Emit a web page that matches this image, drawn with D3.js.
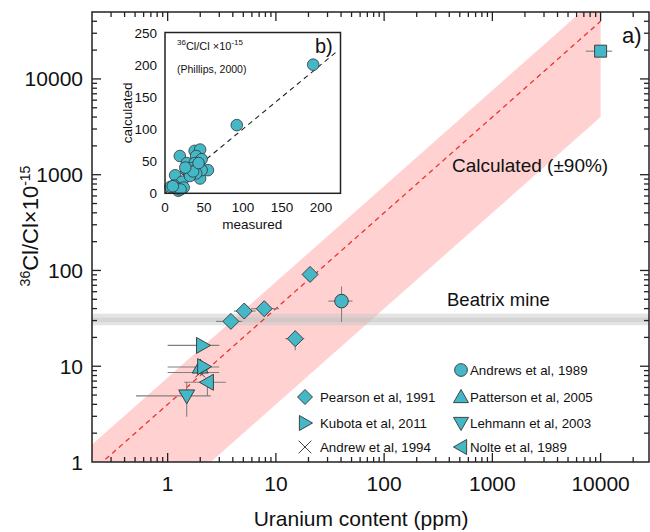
<!DOCTYPE html>
<html><head><meta charset="utf-8">
<script src="https://cdn.jsdelivr.net/npm/d3@7"></script>
<style>
body{margin:0;background:#fff;}
svg{font-family:"Liberation Sans",Arial,sans-serif;}
</style></head><body>
<svg id="c" width="650" height="532"></svg>
<script>
// ---------- data ----------
const xTicks = [1, 10, 100, 1000, 10000];
const yTicks = [1, 10, 100, 1000, 10000];
const xTickLabels = ["1", "10", "100", "1000", "10000"];
const yTickLabels = ["1", "10", "100", "1000", "10000"];

// model line (1:1 calculated) and ±90% band
const calcX = [0.2, 10000];
const calcY = [0.8, 40000];
const bandX = [0.1, 10000];
const bandUpper = [0.76, 76000];
const bandLower = [0.04, 4000];
// Beatrix mine range
const beatrixOuter = [26.8, 35.4];
const beatrixInner = [28.9, 32.1];

// series: u = uranium (ppm), c = 36Cl/Cl, x/y error ranges
const pearson = [
  {u: 20.7, c: 91},
  {u: 5.1, c: 37.7, xl: 4.1, xh: 6.5},
  {u: 7.8, c: 39.9, xl: 5.9, xh: 10.7},
  {u: 3.84, c: 29.4, xl: 2.8, xh: 4.9},
  {u: 15.1, c: 19.4, xl: 12.2, xh: 18.3, yl: 14.7, yh: 23.6}
];
const andrews = [{u: 40.4, c: 47.9, xl: 30.5, xh: 51, yl: 29, yh: 68}];
const kubota = [
  {u: 2.1, c: 16.5, xl: 1.0, xh: 3.0},
  {u: 2.15, c: 9.9}
];
const patterson = [{u: 2.0, c: 9.8, xl: 1.0, xh: 3.0}];
const andrew = [{u: 2.0, c: 8.6, xl: 1.0, xh: 3.0}];
const lehmann = [{u: 1.5, c: 4.9, xl: 0.51, xh: 2.5, yl: 2.96, yh: 6.8}];
const nolte = [{u: 2.33, c: 6.8, xl: 1.42, xh: 3.45, yl: 4.9, yh: 6.8}];
const phillipsSquare = [{u: 10000, c: 19500, xl: 7300, xh: 12800}];

// inset: measured vs calculated (Phillips, 2000)
const insetMeasured   = [190, 92, 7, 13, 19, 19, 17, 22, 24, 12, 15, 20, 28, 27, 31, 38, 45, 40, 47, 38, 34, 40, 44, 45, 55, 47, 40, 32, 36, 43, 10, 26];
const insetCalculated = [200, 106, 10, 28, 58, 13, 4, 18, 9, 12, 8, 6, 47, 36, 31, 66, 68, 58, 53, 47, 39, 36, 42, 23, 36, 36, 31, 27, 34, 47, 11, 40];
const insetTicks = [0, 50, 100, 150, 200];
const insetYTicks = [0, 50, 100, 150, 200, 250];

const legendLeft = [
  {shape: "diamond", label: "Pearson et al, 1991"},
  {shape: "right", label: "Kubota et al, 2011"},
  {shape: "x", label: "Andrew et al, 1994"}
];
const legendRight = [
  {shape: "circle", label: "Andrews et al, 1989"},
  {shape: "up", label: "Patterson et al, 2005"},
  {shape: "down", label: "Lehmann et al, 2003"},
  {shape: "left", label: "Nolte et al, 1989"}
];

// ---------- drawing ----------
const FILL = "#45b8c8", STROKE = "#333", EBAR = "#808080";
const svg = d3.select("#c");
const L = 92, R = 649, T = 12, B = 462;
const x = d3.scaleLog().domain([0.2, 28000]).range([L, R]);
const y = d3.scaleLog().domain([1, 50000]).range([B, T]);

svg.append("defs").append("clipPath").attr("id", "pc")
  .append("rect").attr("x", L).attr("y", T).attr("width", R - L).attr("height", B - T);
const plot = svg.append("g").attr("clip-path", "url(#pc)");

// band
const bandPts = bandX.map((v, i) => [x(v), y(bandUpper[i])])
  .concat(bandX.slice().reverse().map((v, i) => [x(v), y(bandLower[bandX.length - 1 - i])]));
plot.append("path").attr("d", "M" + bandPts.join("L") + "Z").attr("fill", "#ffcfcf").attr("opacity", 0.95);

// Beatrix band
plot.append("rect").attr("x", L).attr("width", R - L)
  .attr("y", y(beatrixOuter[1])).attr("height", y(beatrixOuter[0]) - y(beatrixOuter[1]))
  .attr("fill", "#c8c8c8").attr("opacity", 0.5);
plot.append("rect").attr("x", L).attr("width", R - L)
  .attr("y", y(beatrixInner[1])).attr("height", y(beatrixInner[0]) - y(beatrixInner[1]))
  .attr("fill", "#bbbbbb").attr("opacity", 0.35);

// dashed line
plot.append("line").attr("x1", x(calcX[0])).attr("y1", y(calcY[0]))
  .attr("x2", x(calcX[1])).attr("y2", y(calcY[1]))
  .attr("stroke", "#f03030").attr("stroke-width", 1.3).attr("stroke-dasharray", "5,4");

// shapes
function shapePath(shape, s) {
  switch (shape) {
    case "diamond": return `M0,${-s}L${s},0L0,${s}L${-s},0Z`;
    case "square": return `M${-s},${-s}H${s}V${s}H${-s}Z`;
    case "up": return `M0,${-s}L${s},${s * 0.75}L${-s},${s * 0.75}Z`;
    case "down": return `M0,${s}L${s},${-s * 0.75}L${-s},${-s * 0.75}Z`;
    case "right": return `M${s},0L${-s * 0.75},${s}L${-s * 0.75},${-s}Z`;
    case "left": return `M${-s},0L${s * 0.75},${s}L${s * 0.75},${-s}Z`;
    case "x": return `M${-s},${-s}L${s},${s}M${-s},${s}L${s},${-s}`;
  }
}
function drawMarker(g, shape, cx, cy, size) {
  if (shape === "circle") {
    g.append("circle").attr("cx", cx).attr("cy", cy).attr("r", size * 0.85)
      .attr("fill", FILL).attr("stroke", STROKE).attr("stroke-width", 0.9);
  } else if (shape === "x") {
    g.append("path").attr("d", shapePath("x", size * 0.7)).attr("transform", `translate(${cx},${cy})`)
      .attr("fill", "none").attr("stroke", "#444").attr("stroke-width", 1);
  } else {
    g.append("path").attr("d", shapePath(shape, size)).attr("transform", `translate(${cx},${cy})`)
      .attr("fill", FILL).attr("stroke", STROKE).attr("stroke-width", 0.9);
  }
}
const series = [
  {d: andrew, shape: "x", size: 7},
  {d: lehmann, shape: "down", size: 8},
  {d: nolte, shape: "left", size: 8},
  {d: patterson, shape: "up", size: 8},
  {d: kubota, shape: "right", size: 8},
  {d: pearson, shape: "diamond", size: 8},
  {d: andrews, shape: "circle", size: 8},
  {d: phillipsSquare, shape: "square", size: 6}
];
const eg = plot.append("g");
series.forEach(s => s.d.forEach(p => {
  if (p.xl != null) eg.append("line").attr("x1", x(p.xl)).attr("x2", x(p.xh)).attr("y1", y(p.c)).attr("y2", y(p.c))
    .attr("stroke", EBAR).attr("stroke-width", 1.1);
  if (p.yl != null) eg.append("line").attr("y1", y(p.yl)).attr("y2", y(p.yh)).attr("x1", x(p.u)).attr("x2", x(p.u))
    .attr("stroke", EBAR).attr("stroke-width", 1.1);
}));
const mg = plot.append("g");
series.forEach(s => s.d.forEach(p => drawMarker(mg, s.shape, x(p.u), y(p.c), s.size)));

// axes frame
svg.append("rect").attr("x", L).attr("y", T).attr("width", R - L).attr("height", B - T)
  .attr("fill", "none").attr("stroke", "#222").attr("stroke-width", 1.5);

// ticks
function minorTicks(domain) {
  const out = [];
  for (let e = -1; e <= 5; e++) for (let m = 1; m <= 9; m++) {
    const v = m * Math.pow(10, e);
    if (v > domain[0] * 1.0001 && v < domain[1] * 0.9999) out.push({v, major: m === 1});
  }
  return out;
}
const tg = svg.append("g").attr("stroke", "#222").attr("stroke-width", 1.3);
minorTicks(x.domain()).forEach(t => {
  const len = t.major ? 9 : 5, px = x(t.v);
  tg.append("line").attr("x1", px).attr("x2", px).attr("y1", B).attr("y2", B - len);
  tg.append("line").attr("x1", px).attr("x2", px).attr("y1", T).attr("y2", T + len);
});
minorTicks(y.domain()).forEach(t => {
  const len = t.major ? 9 : 5, py = y(t.v);
  tg.append("line").attr("y1", py).attr("y2", py).attr("x1", L).attr("x2", L + len);
  tg.append("line").attr("y1", py).attr("y2", py).attr("x1", R).attr("x2", R - len);
});
xTicks.forEach((v, i) => svg.append("text").attr("x", x(v)).attr("y", 491).attr("text-anchor", "middle")
  .attr("font-size", 21).attr("fill", "#111").text(xTickLabels[i]));
yTicks.forEach((v, i) => svg.append("text").attr("x", 83).attr("y", y(v) + 7.5).attr("text-anchor", "end")
  .attr("font-size", 21).attr("fill", "#111").text(yTickLabels[i]));

// axis titles
svg.append("text").attr("x", 361).attr("y", 526).attr("text-anchor", "middle")
  .attr("font-size", 21).attr("fill", "#111").text("Uranium content (ppm)");
const yl = svg.append("text").attr("transform", "translate(38,226) rotate(-90)").attr("text-anchor", "middle")
  .attr("font-size", 22).attr("fill", "#111");
yl.append("tspan").attr("font-size", 14).attr("dy", -8).text("36");
yl.append("tspan").attr("dy", 8).text("Cl/Cl×10");
yl.append("tspan").attr("font-size", 14).attr("dy", -8).text("-15");

// annotations
svg.append("text").attr("x", 452).attr("y", 172).attr("font-size", 19).attr("fill", "#111").text("Calculated (±90%)");
svg.append("text").attr("x", 447).attr("y", 306).attr("font-size", 18.5).attr("fill", "#111").text("Beatrix mine");
svg.append("text").attr("x", 622).attr("y", 43).attr("font-size", 22).attr("fill", "#111").text("a)");

// legend
const lg = svg.append("g");
const leftRows = [397, 423, 447], rightRows = [370, 397, 423, 447];
legendLeft.forEach((d, i) => {
  drawMarker(lg, d.shape, 305, leftRows[i], d.shape === "x" ? 9 : 7.5);
  lg.append("text").attr("x", 320).attr("y", leftRows[i] + 5).attr("font-size", 13.3).attr("fill", "#111").text(d.label);
});
legendRight.forEach((d, i) => {
  drawMarker(lg, d.shape, 461, rightRows[i], 7.5);
  lg.append("text").attr("x", 470).attr("y", rightRows[i] + 5).attr("font-size", 13.3).attr("fill", "#111").text(d.label);
});

// ---------- inset ----------
const iL = 165, iR = 340.5, iT = 32.5, iB = 193.3;
const ix = d3.scaleLinear().domain([0, 225]).range([iL, iR]);
const iy = d3.scaleLinear().domain([0, 250]).range([iB, iT]);
const ig = svg.append("g");
ig.append("rect").attr("x", iL).attr("y", iT).attr("width", iR - iL).attr("height", iB - iT)
  .attr("fill", "#fff");
ig.append("line").attr("x1", ix(0)).attr("y1", iy(0)).attr("x2", ix(222)).attr("y2", iy(222))
  .attr("stroke", "#222").attr("stroke-width", 1.1).attr("stroke-dasharray", "5,4");
insetMeasured.forEach((m, i) => ig.append("circle").attr("cx", ix(m)).attr("cy", iy(insetCalculated[i]))
  .attr("r", 5.8).attr("fill", FILL).attr("stroke", STROKE).attr("stroke-width", 0.8));
ig.append("rect").attr("x", iL).attr("y", iT).attr("width", iR - iL).attr("height", iB - iT)
  .attr("fill", "none").attr("stroke", "#222").attr("stroke-width", 1.5);
insetTicks.forEach(v => ig.append("text").attr("x", ix(v)).attr("y", 211.5).attr("text-anchor", "middle")
  .attr("font-size", 13.5).attr("fill", "#111").text(v));
insetYTicks.forEach(v => ig.append("text").attr("x", 157).attr("y", iy(v) + 5).attr("text-anchor", "end")
  .attr("font-size", 13.5).attr("fill", "#111").text(v));
ig.append("text").attr("x", ix(112)).attr("y", 228.5).attr("text-anchor", "middle").attr("font-size", 13.5)
  .attr("fill", "#111").text("measured");
ig.append("text").attr("transform", `translate(132,${(iT + iB) / 2}) rotate(-90)`).attr("text-anchor", "middle")
  .attr("font-size", 13.5).attr("fill", "#111").text("calculated");
const it = ig.append("text").attr("x", 177).attr("y", 50).attr("font-size", 11).attr("fill", "#111");
it.append("tspan").attr("font-size", 8).attr("dy", -5).text("36");
it.append("tspan").attr("dy", 5).text("Cl/Cl ×10");
it.append("tspan").attr("font-size", 8).attr("dy", -5).text("-15");
ig.append("text").attr("x", 177).attr("y", 73).attr("font-size", 10.5).attr("fill", "#111").text("(Phillips, 2000)");
ig.append("text").attr("x", 315).attr("y", 53).attr("font-size", 20).attr("fill", "#111").text("b)");
</script></body></html>
